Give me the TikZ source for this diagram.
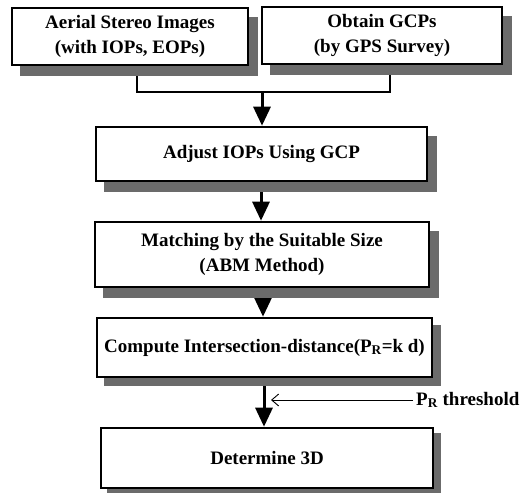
\documentclass[tikz,border=0pt]{standalone}
\usepackage{fontspec}
\setmainfont{Liberation Serif}
\usetikzlibrary{arrows.meta,backgrounds,calc,patterns}
\begin{document}
\begin{tikzpicture}[x=1pt,y=-1pt,
  box/.style={draw=black,line width=2.6pt,fill=white,align=center,inner sep=0pt,
    font=\fontsize{19}{25}\selectfont\bfseries},
  flow/.style={line width=3pt,-{Triangle[width=17pt,length=19pt]}},
  link/.style={line width=2.6pt},
  thin/.style={line width=0.9pt,-{Straight Barb[length=7pt,width=12pt,line width=0.9pt]}}]
\useasboundingbox (0,0) rectangle (526,492);
\coordinate (j) at (262,92);
\coordinate (tend) at (271,400);
\node[box,minimum width=236pt,minimum height=57pt] (b1) at (130,36.5) {Aerial Stereo Images\\(with IOPs, EOPs)};
\node[box,minimum width=240pt,minimum height=57pt] (b2) at (382,35.5) {Obtain GCPs\\(by GPS Survey)};
\node[box,minimum width=331pt,minimum height=54pt] (b3) at (261.5,154) {Adjust IOPs Using GCP};
\node[box,minimum width=334pt,minimum height=65pt] (b4) at (262,254.5) {Matching by the Suitable Size\\(ABM Method)};
\node[box,minimum width=335pt,minimum height=59pt] (b5) at (264.5,347.5) {Compute Intersection-distance(P\textsubscript{R}=k d)};
\node[box,minimum width=332pt,minimum height=60pt] (b6) at (267,458) {Determine 3D};
\node[font=\fontsize{19}{25}\selectfont\bfseries,inner sep=0pt,anchor=west] (thr) at (416,400) {P\textsubscript{R} threshold};
\begin{scope}[on background layer]
  \draw[link] ([xshift=7pt]b1.south) |- (j) -| ([xshift=8pt]b2.south);
  \draw[flow] (j) -- (j |- b3.north);
  \draw[flow] (b3.south -| 261,0) -- (261,0 |- b4.north);
  \draw[flow] (b4.south -| 263,0) -- (263,0 |- b5.north);
  \draw[flow] (b5.south -| 264,0) -- (264,0 |- b6.north);
  \fill[black!58] ([xshift=9pt,yshift=-10pt]b1.south west) rectangle ([xshift=9pt,yshift=-10pt]b1.north east);
  \fill[black!58] ([xshift=9pt,yshift=-10pt]b2.south west) rectangle ([xshift=9pt,yshift=-10pt]b2.north east);
  \fill[black!58] ([xshift=9pt,yshift=-10pt]b3.south west) rectangle ([xshift=9pt,yshift=-10pt]b3.north east);
  \fill[black!58] ([xshift=9pt,yshift=-10pt]b4.south west) rectangle ([xshift=9pt,yshift=-10pt]b4.north east);
  \fill[black!58] ([xshift=8pt,yshift=-8pt]b5.south west) rectangle ([xshift=8pt,yshift=-8pt]b5.north east);
  \fill[black!58] ([xshift=7pt,yshift=-6pt]b6.south west) rectangle ([xshift=7pt,yshift=-6pt]b6.north east);
\end{scope}
\draw[thin] ([xshift=-3pt]thr.west) -- (tend);
\end{tikzpicture}
\end{document}
